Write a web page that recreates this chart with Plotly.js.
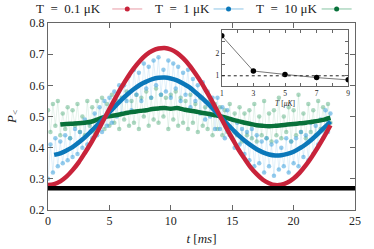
<!DOCTYPE html>
<html><head><meta charset="utf-8">
<script src="https://cdn.plot.ly/plotly-3.0.1.min.js"></script>
<style>html,body{margin:0;padding:0;background:#fff}#chart{width:374px;height:249px}</style>
</head><body><div id="chart"></div>
<script>
// ---- data ----
const seriesNames = ["T\u2002=\u20020.1 \u03bcK", "T\u2002=\u20021 \u03bcK", "T\u2002=\u200210 \u03bcK"];
// measured points (t from 0 ms, every 0.2 ms)
const dotT0 = 0, dotDt = 0.2;
const dots1uK = [
 0.30,0.41,0.32,0.43,0.34,0.42,0.35,0.44,0.36,0.43,
 0.37,0.46,0.38,0.45,0.40,0.49,0.41,0.48,0.43,0.51,
 0.44,0.53,0.45,0.55,0.47,0.56,0.48,0.58,0.50,0.60,
 0.51,0.60,0.55,0.63,0.52,0.65,0.57,0.64,0.55,0.67,
 0.59,0.66,0.56,0.68,0.60,0.69,0.57,0.65,0.58,0.68,
 0.56,0.67,0.59,0.66,0.55,0.64,0.57,0.65,0.53,0.62,
 0.55,0.60,0.51,0.61,0.49,0.58,0.50,0.56,0.46,0.56,
 0.46,0.53,0.43,0.52,0.44,0.49,0.40,0.48,0.41,0.46,
 0.38,0.45,0.36,0.46,0.34,0.44,0.35,0.42,0.32,0.43,
 0.34,0.41,0.31,0.42,0.33,0.40,0.34,0.43,0.32,0.42,
 0.35,0.43,0.34,0.45,0.37,0.44,0.36,0.48,0.38,0.47,
 0.41,0.49,0.43,0.52,0.45,0.51];
const dots10uK = [
 0.52,0.45,0.54,0.47,0.55,0.44,0.51,0.46,0.53,0.43,
 0.52,0.47,0.54,0.45,0.50,0.44,0.55,0.47,0.53,0.45,
 0.55,0.48,0.56,0.46,0.54,0.47,0.57,0.48,0.55,0.46,
 0.56,0.49,0.58,0.47,0.55,0.48,0.57,0.46,0.56,0.50,
 0.58,0.47,0.56,0.49,0.59,0.48,0.57,0.50,0.56,0.46,
 0.57,0.49,0.58,0.47,0.56,0.48,0.55,0.46,0.57,0.48,
 0.54,0.45,0.56,0.47,0.53,0.46,0.55,0.44,0.54,0.46,
 0.53,0.44,0.52,0.45,0.54,0.43,0.51,0.44,0.53,0.42,
 0.51,0.44,0.52,0.43,0.54,0.42,0.50,0.44,0.55,0.43,
 0.51,0.42,0.52,0.44,0.56,0.43,0.50,0.45,0.53,0.42,
 0.52,0.44,0.57,0.45,0.51,0.43,0.54,0.45,0.52,0.44,
 0.55,0.46,0.53,0.45,0.54,0.48];
// smooth curves (every 0.5 ms)
const curveDt = 0.5;
const curve01T0 = 0;
const curve01uK = [0.280,0.283,0.292,0.307,0.328,0.353,0.383,0.415,0.450,0.487,0.524,0.560,0.595,0.627,0.655,0.679,0.698,0.711,0.718,0.720,0.715,0.704,0.687,0.665,0.638,0.608,0.574,0.539,0.502,0.465,0.430,0.395,0.365,0.337,0.315,0.297,0.286,0.280,0.281,0.288,0.301,0.320,0.344,0.372,0.403,0.436,0.472];
const curve1T0 = 0.5;
const curve1uK = [0.377,0.382,0.391,0.402,0.417,0.433,0.452,0.472,0.493,0.514,0.534,0.554,0.572,0.588,0.602,0.612,0.620,0.624,0.625,0.622,0.616,0.606,0.594,0.578,0.561,0.542,0.522,0.501,0.480,0.460,0.440,0.423,0.408,0.395,0.385,0.378,0.375,0.376,0.380,0.387,0.398,0.411,0.427,0.445,0.464,0.484];
const curve10T0 = 1;
const curve10uK = [0.474,0.476,0.477,0.478,0.480,0.483,0.490,0.497,0.501,0.504,0.508,0.512,0.515,0.518,0.520,0.524,0.526,0.527,0.525,0.527,0.523,0.519,0.516,0.512,0.509,0.505,0.501,0.496,0.490,0.485,0.480,0.476,0.472,0.470,0.469,0.470,0.472,0.474,0.476,0.478,0.480,0.483,0.486,0.490,0.496];
// baseline
const baseT = [0, 25];
const baseP = [0.27, 0.27];
// inset
const insetT = [1, 3, 5, 7, 9];
const insetVal = [2.76, 1.21, 1.06, 0.92, 0.82];
const insetRef = 1;
const insetXTicks = [1,2,3,4,5,6,7,8,9];
const insetXText = ["1","","3","","5","","7","","9"];
const insetYTicks = [1,1.5,2,2.5];
const insetYText = ["1","","2",""];

// ---- styling ----
const RED = "#c8233a", BLUE = "#0b78ba", GREEN = "#08713a";
const FONT = "Liberation Serif";
const traces = [
  {x0: dotT0, dx: dotDt, y: dots10uK, mode: "lines+markers", showlegend: false, hoverinfo: "skip",
   line: {color: "rgba(90,175,130,0.22)", width: 0.7}, marker: {color: "rgba(90,175,130,0.5)", size: 4.5}},
  {x0: dotT0, dx: dotDt, y: dots1uK, mode: "lines+markers", showlegend: false, hoverinfo: "skip",
   line: {color: "rgba(60,160,220,0.22)", width: 0.7}, marker: {color: "rgba(60,160,220,0.55)", size: 4.5}},
  {x0: curve10T0, dx: curveDt, y: curve10uK, mode: "lines", showlegend: false, line: {color: GREEN, width: 4.5, shape: "spline"}},
  {x0: curve1T0, dx: curveDt, y: curve1uK, mode: "lines", showlegend: false, line: {color: BLUE, width: 4.5, shape: "spline"}},
  {x0: curve01T0, dx: curveDt, y: curve01uK, mode: "lines", showlegend: false, line: {color: RED, width: 4.5, shape: "spline"}},
  {x: baseT, y: baseP, mode: "lines", showlegend: false, line: {color: "#000", width: 4.5}, cliponaxis: false},
  {x: insetT, y: insetVal, xaxis: "x2", yaxis: "y2", mode: "lines+markers", showlegend: false,
   line: {color: "#555", width: 0.8}, marker: {color: "#000", size: 5.5}},
  // legend entries
  {x: [null], y: [null], name: "", mode: "lines+markers", legend: "legend",
   line: {color: "#e89aa5", width: 1}, marker: {color: RED, size: 5}},
  {x: [null], y: [null], name: "", mode: "lines+markers", legend: "legend2",
   line: {color: "#8cc4e6", width: 1}, marker: {color: BLUE, size: 5}},
  {x: [null], y: [null], name: "", mode: "lines+markers", legend: "legend3",
   line: {color: "#86c4a2", width: 1}, marker: {color: GREEN, size: 5}}
];
const axisCommon = {showline: true, linecolor: "#666", linewidth: 1, mirror: "ticks", ticks: "inside",
  tickcolor: "#666", showgrid: false, zeroline: false};
const legCommon = {orientation: "h", yanchor: "middle", xanchor: "left", bgcolor: "rgba(0,0,0,0)",
  font: {family: FONT, size: 12}, y: 1.075, borderwidth: 0, itemclick: false};
const annFont = {family: FONT, size: 13, color: "#222"};
const layout = {
  width: 374, height: 249,
  margin: {l: 48, r: 19, t: 23, b: 39, autoexpand: false},
  paper_bgcolor: "#fff", plot_bgcolor: "#fff",
  font: {family: FONT, color: "#222", size: 12},
  xaxis: Object.assign({}, axisCommon, {range: [0, 25], dtick: 5, ticklen: 5,
    tickfont: {family: FONT, size: 12, color: "#222"},
    title: {text: "<i>t</i> [<i>ms</i>]", font: {family: FONT, size: 13}, standoff: 6}}),
  yaxis: Object.assign({}, axisCommon, {range: [0.2, 0.8], dtick: 0.1, tickformat: ".1f", ticklen: 5,
    tickfont: {family: FONT, size: 12, color: "#222"},
    title: {text: "<i>P</i><sub>&lt;</sub>", font: {family: FONT, size: 13}, standoff: 10}}),
  xaxis2: Object.assign({}, axisCommon, {domain: [0.566, 0.978], anchor: "y2", range: [1, 9],
    tickmode: "array", tickvals: insetXTicks, ticktext: insetXText, ticklen: 3,
    tickfont: {family: FONT, size: 7.5, color: "#222"},
    title: {text: "<i>T</i> [<i>\u03bcK</i>]", font: {family: FONT, size: 7.5}, standoff: 3}}),
  yaxis2: Object.assign({}, axisCommon, {domain: [0.663, 0.961], anchor: "x2", range: [0.55, 3.0],
    tickmode: "array", tickvals: insetYTicks, ticktext: insetYText, ticklen: 3,
    tickfont: {family: FONT, size: 7.5, color: "#222"}}),
  shapes: [{type: "line", xref: "x2 domain", x0: 0, x1: 1, yref: "y2", y0: insetRef, y1: insetRef,
    line: {color: "#222", width: 1, dash: "3px,3px"}}],
  showlegend: true,
  legend: Object.assign({}, legCommon, {x: 0.193}),
  legend2: Object.assign({}, legCommon, {x: 0.523}),
  legend3: Object.assign({}, legCommon, {x: 0.875}),
  annotations: [
    {text: seriesNames[0], xref: "paper", yref: "paper", x: 0.179, y: 1.075, xanchor: "right", yanchor: "middle", showarrow: false, font: annFont},
    {text: seriesNames[1], xref: "paper", yref: "paper", x: 0.534, y: 1.075, xanchor: "right", yanchor: "middle", showarrow: false, font: annFont},
    {text: seriesNames[2], xref: "paper", yref: "paper", x: 0.883, y: 1.075, xanchor: "right", yanchor: "middle", showarrow: false, font: annFont}
  ]
};
Plotly.newPlot("chart", traces, layout, {staticPlot: true, displayModeBar: false});
</script></body></html>
